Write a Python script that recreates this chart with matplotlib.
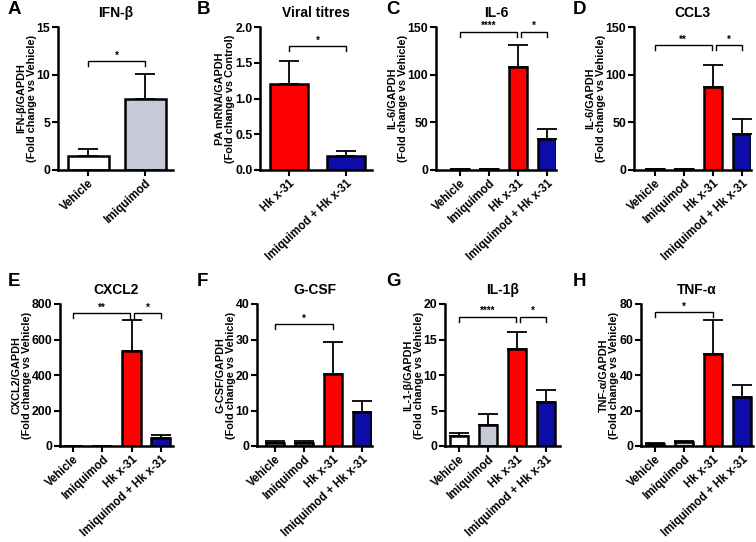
import matplotlib
matplotlib.use("Agg")
import matplotlib.pyplot as plt

plt.rcParams['font.family'] = ['Liberation Sans', 'DejaVu Sans']
plt.rcParams['font.weight'] = 'bold'

# ---------------- data ----------------
cats4 = ["Vehicle", "Imiquimod", "Hk x-31", "Imiquimod + Hk x-31"]
cats_a = ["Vehicle", "Imiquimod"]
cats_b = ["Hk x-31", "Imiquimod + Hk x-31"]

ifnb_mean = [1.5, 7.4]
ifnb_err = [0.7, 2.7]

viral_mean = [1.2, 0.2]
viral_err = [0.32, 0.06]

il6_mean = [0.8, 0.9, 108, 33]
il6_err = [0.3, 0.3, 23, 10]

ccl3_mean = [0.8, 0.9, 87, 38]
ccl3_err = [0.3, 0.3, 23, 16]

cxcl2_mean = [1.0, 1.0, 535, 45]
cxcl2_err = [0.5, 0.5, 177, 17]

gcsf_mean = [0.9, 0.8, 20.3, 9.5]
gcsf_err = [0.6, 0.7, 8.9, 3.2]

il1b_mean = [1.4, 3.0, 13.7, 6.2]
il1b_err = [0.5, 1.5, 2.3, 1.7]

tnfa_mean = [1.0, 2.0, 52, 27.5]
tnfa_err = [0.5, 1.0, 19, 7]

WHITE, GREY, RED, BLUE = "#ffffff", "#c6cad6", "#ff0000", "#0c0ca8"
colors4 = [WHITE, GREY, RED, BLUE]

W, H = 756, 542
fig = plt.figure(figsize=(W / 100, H / 100), dpi=100)


def make_ax(x0, x1, y_top, y_bot):
    return fig.add_axes([x0 / W, 1 - y_bot / H, (x1 - x0) / W, (y_bot - y_top) / H])


def bracket(ax, x1, x2, y, leg, label):
    ax.plot([x1, x1, x2, x2], [y - leg, y, y, y - leg], color="black", lw=1.0,
            clip_on=False, solid_joinstyle="miter")
    ax.text((x1 + x2) / 2, y + leg * 0.1, label, ha="center", va="bottom",
            fontsize=7, fontweight="bold")


def panel(ax, cats, means, errs, cols, ymax, ystep, xlim, title, ylabel, letter,
          letter_xy, width, brackets, fmt="{:.0f}"):
    xs = list(range(len(cats)))
    ax.bar(xs, means, width=width, color=cols, edgecolor="black", linewidth=1.8, zorder=2)
    ax.errorbar(xs, means, yerr=[[0] * len(errs), errs], fmt="none", ecolor="black",
                elinewidth=1.3, capsize=7, capthick=1.3, zorder=1)
    ax.set_xlim(*xlim)
    ax.set_ylim(0, ymax)
    ticks = [i * ystep for i in range(int(round(ymax / ystep)) + 1)]
    ax.set_yticks(ticks)
    ax.set_yticklabels([fmt.format(t) for t in ticks], fontsize=8.8, fontweight="bold")
    ax.set_xticks(xs)
    ax.set_xticklabels(cats, rotation=43, ha="right", rotation_mode="anchor",
                       fontsize=8.3, fontweight="bold")
    for s in ["top", "right"]:
        ax.spines[s].set_visible(False)
    for s in ["left", "bottom"]:
        ax.spines[s].set_linewidth(1.8)
    ax.tick_params(axis="both", width=1.5, length=4, pad=1.5)
    ax.set_title(title, fontsize=10, fontweight="bold", pad=7)
    ax.set_ylabel(ylabel, fontsize=7.8, fontweight="bold", labelpad=0, linespacing=1.05)
    fig.text(letter_xy[0] / W, 1 - letter_xy[1] / H, letter, fontsize=13.5,
             fontweight="bold", ha="left", va="center")
    leg = ymax * 0.035
    for (b1, b2, yv, lab) in brackets:
        bracket(ax, b1, b2, yv, leg, lab)


TOP, BOT = 27, 170
TOP2, BOT2 = 304, 446

axA = make_ax(58, 173, TOP, BOT)
panel(axA, cats_a, ifnb_mean, ifnb_err, [WHITE, GREY], 15, 5, (-0.53, 1.49),
      "IFN-β", "IFN-β/GAPDH\n(Fold change vs Vehicle)", "A", (8, 9), 0.72,
      [(0, 1, 11.4, "*")])

axB = make_ax(260, 372, TOP, BOT)
panel(axB, cats_b, viral_mean, viral_err, [RED, BLUE], 2.0, 0.5, (-0.51, 1.46),
      "Viral titres", "PA mRNA/GAPDH\n(Fold change vs Control)", "B", (197, 9), 0.68,
      [(0, 1, 1.73, "*")], fmt="{:.1f}")

axC = make_ax(436, 556, TOP, BOT)
panel(axC, cats4, il6_mean, il6_err, colors4, 150, 50, (-0.83, 3.31),
      "IL-6", "IL-6/GAPDH\n(Fold change vs Vehicle)", "C", (386, 9), 0.64,
      [(0, 1.95, 145, "****"), (2.1, 3, 145, "*")])

axD = make_ax(634, 751, TOP, BOT)
panel(axD, cats4, ccl3_mean, ccl3_err, colors4, 150, 50, (-0.72, 3.31),
      "CCL3", "IL-6/GAPDH\n(Fold change vs Vehicle)", "D", (573, 9), 0.64,
      [(0, 1.95, 131, "**"), (2.1, 3, 131, "*")])

axE = make_ax(60, 173, TOP2, BOT2)
panel(axE, cats4, cxcl2_mean, cxcl2_err, colors4, 800, 200, (-0.45, 3.42),
      "CXCL2", "CXCL2/GAPDH\n(Fold change vs Vehicle)", "E", (8, 282), 0.64,
      [(0, 1.95, 750, "**"), (2.1, 3, 750, "*")])

axF = make_ax(257, 372, TOP2, BOT2)
panel(axF, cats4, gcsf_mean, gcsf_err, colors4, 40, 10, (-0.62, 3.34),
      "G-CSF", "G-CSF/GAPDH\n(Fold change vs Vehicle)", "F", (197, 282), 0.64,
      [(0, 2, 34.4, "*")])

axG = make_ax(445, 560, TOP2, BOT2)
panel(axG, cats4, il1b_mean, il1b_err, colors4, 20, 5, (-0.48, 3.48),
      "IL-1β", "IL-1-β/GAPDH\n(Fold change vs Vehicle)", "G", (386, 282), 0.64,
      [(0, 1.95, 18.2, "****"), (2.1, 3, 18.2, "*")])

axH = make_ax(641, 753, TOP2, BOT2)
panel(axH, cats4, tnfa_mean, tnfa_err, colors4, 80, 20, (-0.48, 3.38),
      "TNF-α", "TNF-α/GAPDH\n(Fold change vs Vehicle)", "H", (573, 282), 0.64,
      [(0, 2, 75.5, "*")])

fig.savefig("out.png", dpi=100)
